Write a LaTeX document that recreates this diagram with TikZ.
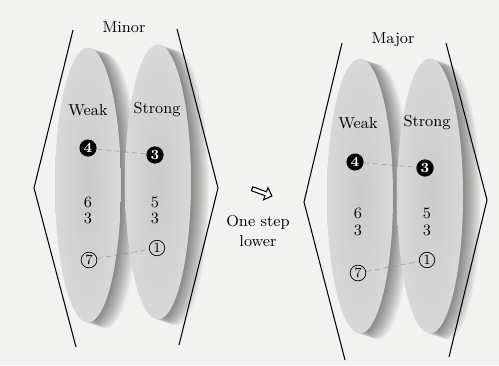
\documentclass[tikz,border=0pt]{standalone}
\usetikzlibrary{shapes.geometric,shapes.arrows}
\definecolor{paper}{RGB}{242,242,241}
\definecolor{lensgray}{RGB}{203,203,203}
\definecolor{lensrim}{RGB}{216,216,216}

\begin{document}
\begin{tikzpicture}[x=0.02cm,y=-0.02cm, every node/.style={font=\small}, lens/.style={ellipse,minimum width=1.32cm,minimum height=5.5cm,inner color=lensgray,outer color=lensrim}, lensshade/.style={ellipse,minimum width=1.32cm,minimum height=5.5cm,fill=black,opacity=0.028}, solidnum/.style={circle,fill=black,text=white,font=\footnotesize\bfseries,inner sep=0.9pt}, opennum/.style={circle,draw,thin,font=\footnotesize,inner sep=0.7pt}, link/.style={densely dashed,gray,very thin}, bracket/.style={semithick,line join=miter}]
\fill[paper] (0,0) rectangle (499,365);
\useasboundingbox (0,0) rectangle (499,365);
% shadows of the lenses
\foreach \cx/\cy in {88/185,158/182,360/196,430/196}
  \foreach \d in {1,2,...,18}
    \node[lensshade] at (\cx+\d,\cy+\d/3) {};
% minor
\node[lens] (minorWeak) at (88,185) {};
\node[lens] (minorStrong) at (158,182) {};
\node (minorTitle) at (124,27) {Minor};
\node (minorWeakText) at (88,110) {Weak};
\node (minorStrongText) at (157,110) {Strong};
\node[solidnum] (minorFour) at (88,148) {4};
\node[solidnum] (minorThree) at (155,155) {3};
\node (minorSix) at (88,202) {6};
\node (minorWeakBass) at (88,218) {3};
\node (minorFive) at (155,202) {5};
\node (minorStrongBass) at (155,218) {3};
\node[opennum] (minorSeven) at (89,260) {7};
\node[opennum] (minorOne) at (157,248) {1};
\draw[link] (minorFour) -- (minorThree);
\draw[link] (minorSeven) -- (minorOne);
\draw[bracket] (73,30) -- (34,188) -- (76,347);
\draw[bracket] (177,29) -- (218,188) -- (179,345);
% step
\node[single arrow,draw,semithick,fill=white,minimum height=0.42cm,minimum width=0.26cm,single arrow head extend=0.06cm,inner sep=0.5pt,rotate=-20] (stepArrow) at (261,192) {};
\node[align=center] (stepText) at (258,231) {One step\\lower};
% major
\node[lens] (majorWeak) at (360,196) {};
\node[lens] (majorStrong) at (430,196) {};
\node (majorTitle) at (393,40) {Major};
\node (majorWeakText) at (358,123) {Weak};
\node (majorStrongText) at (427,123) {Strong};
\node[solidnum] (majorFour) at (355,162) {4};
\node[solidnum] (majorThree) at (425,168) {3};
\node (majorSix) at (358,213) {6};
\node (majorWeakBass) at (358,230) {3};
\node (majorFive) at (427,213) {5};
\node (majorStrongBass) at (427,230) {3};
\node[opennum] (majorSeven) at (358,273) {7};
\node[opennum] (majorOne) at (427,260) {1};
\draw[link] (majorFour) -- (majorThree);
\draw[link] (majorSeven) -- (majorOne);
\draw[bracket] (342,43) -- (304,202) -- (345,360);
\draw[bracket] (446,43) -- (487,200) -- (449,357);
\end{tikzpicture}
\end{document}
